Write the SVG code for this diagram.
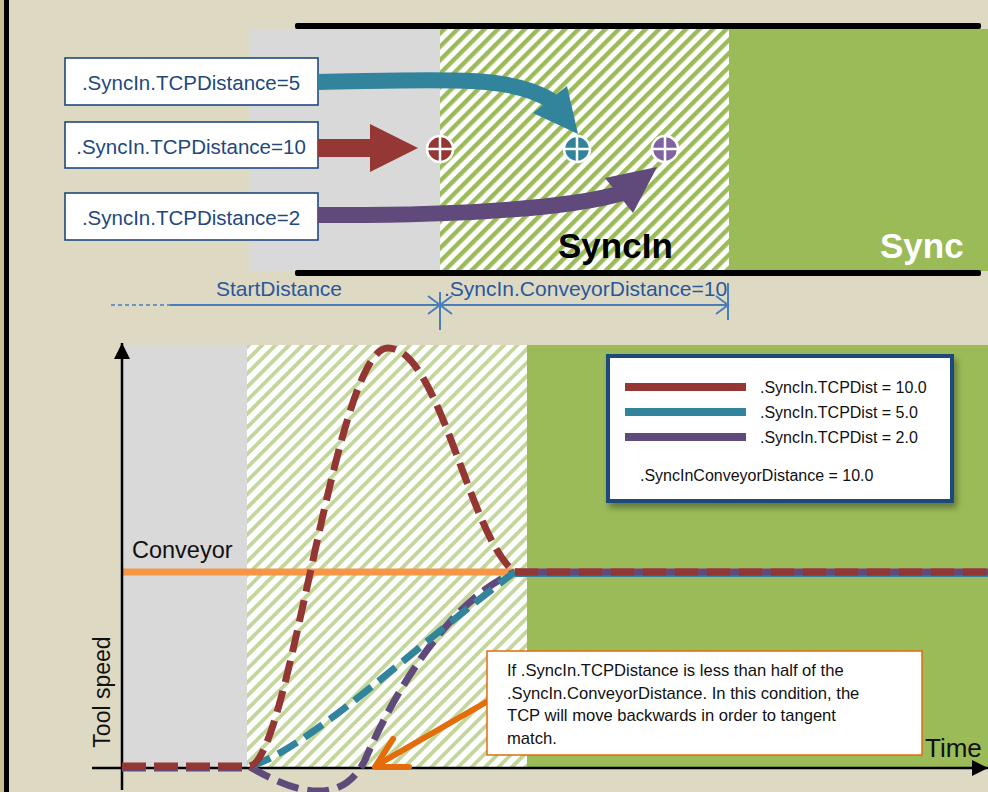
<svg xmlns="http://www.w3.org/2000/svg" width="988" height="792" viewBox="0 0 988 792">
<defs>
  <pattern id="hatchDark" width="9.5" height="9.5" patternUnits="userSpaceOnUse" patternTransform="rotate(45)">
    <rect width="9.5" height="9.5" fill="#ffffff"/>
    <rect width="4.4" height="9.5" fill="#9BBB59"/>
  </pattern>
  <pattern id="hatchLight" width="9.5" height="9.5" patternUnits="userSpaceOnUse" patternTransform="rotate(45)">
    <rect width="9.5" height="9.5" fill="#ffffff"/>
    <rect width="3.8" height="9.5" fill="#C3D69B"/>
  </pattern>
  <marker id="axisArrow" markerUnits="userSpaceOnUse" markerWidth="18" markerHeight="18" refX="16" refY="8" orient="auto">
    <path d="M0,0 L16,8 L0,16 z" fill="#000"/>
  </marker>
  <filter id="shadow" x="-10%" y="-10%" width="125%" height="135%">
    <feDropShadow dx="3" dy="5" stdDeviation="3" flood-color="#000" flood-opacity="0.35"/>
  </filter>
</defs>
<style>
  .lbl{font-family:"Liberation Sans",Arial,sans-serif}
  .box{fill:#ffffff;stroke:#1F497D;stroke-width:1.6}
  .boxtxt{font-family:"Liberation Sans",Arial,sans-serif;font-size:20.5px;fill:#1F497D;text-anchor:middle}
  .dimtxt{font-family:"Liberation Sans",Arial,sans-serif;font-size:21px;fill:#2B579A}
  .dimline{stroke:#4A7EBB;stroke-width:2;fill:none}
  .legtxt{font-family:"Liberation Sans",Arial,sans-serif;font-size:16px;fill:#111}
  .notetxt{font-family:"Liberation Sans",Arial,sans-serif;font-size:16.6px;fill:#111}
  .dash{fill:none;stroke-width:7;stroke-dasharray:22 9}
  .mk{stroke:#ffffff;stroke-width:2.5}
</style>

<g id="background">
  <rect x="0" y="0" width="988" height="792" fill="#DDD9C3"/>
  <rect x="0" y="0" width="4" height="792" fill="#C7BD97"/>
  <rect x="4" y="0" width="5" height="792" fill="#000"/>
</g>

<g id="top-zones">
  <rect x="250" y="29" width="190" height="242" fill="#D9D9D9"/>
  <rect x="440" y="29" width="289" height="242" fill="url(#hatchDark)"/>
  <rect x="729" y="29" width="259" height="242" fill="#9BBB59"/>
  <rect x="295" y="23" width="686" height="6" rx="2" fill="#000"/>
  <rect x="295" y="270" width="686" height="6" rx="2" fill="#000"/>
  <text class="lbl" x="558" y="258" font-size="35" font-weight="bold" fill="#000">SyncIn</text>
  <text class="lbl" x="880" y="258" font-size="35" font-weight="bold" fill="#fff">Sync</text>
</g>

<g id="box-tcp5">
  <rect class="box" x="65" y="58" width="253" height="47"/>
  <text class="boxtxt" x="191" y="90">.SyncIn.TCPDistance=5</text>
</g>
<g id="box-tcp10">
  <rect class="box" x="65" y="122" width="253" height="46"/>
  <text class="boxtxt" x="191" y="154">.SyncIn.TCPDistance=10</text>
</g>
<g id="box-tcp2">
  <rect class="box" x="65" y="193" width="253" height="47"/>
  <text class="boxtxt" x="191" y="225">.SyncIn.TCPDistance=2</text>
</g>

<g id="connectors">
  <path d="M318,82 C440,80 510,74 552,101" fill="none" stroke="#31849B" stroke-width="16"/>
  <polygon points="533,113 567,86 578,134" fill="#31849B"/>
  <rect x="318" y="139" width="54" height="18" fill="#953735"/>
  <polygon points="370,124 418,148 370,172" fill="#953735"/>
  <path d="M318,215 C470,216 575,207 622,193" fill="none" stroke="#604A7B" stroke-width="16"/>
  <polygon points="605,178 657,167 633,213" fill="#604A7B"/>
</g>

<g id="marker-red">
  <circle cx="440" cy="149" r="13" fill="#953735" class="mk"/>
  <path d="M427,149 H453 M440,136 V162" class="mk"/>
</g>
<g id="marker-teal">
  <circle cx="577" cy="149" r="13" fill="#31849B" class="mk"/>
  <path d="M564,149 H590 M577,136 V162" class="mk"/>
</g>
<g id="marker-purple">
  <circle cx="665" cy="149" r="13" fill="#8064A2" class="mk"/>
  <path d="M652,149 H678 M665,136 V162" class="mk"/>
</g>

<g id="dimensions">
  <line x1="111" y1="305" x2="170" y2="305" stroke="#4A7EBB" stroke-width="1.5" stroke-dasharray="4 3"/>
  <line class="dimline" x1="170" y1="305" x2="728" y2="305"/>
  <line class="dimline" x1="440" y1="292" x2="440" y2="330"/>
  <polyline class="dimline" points="428,296 440,305 428,314"/>
  <polyline class="dimline" points="452,296 440,305 452,314"/>
  <line class="dimline" x1="728" y1="283" x2="728" y2="320"/>
  <polyline class="dimline" points="716,296 728,305 716,314"/>
  <text class="dimtxt" x="216" y="296">StartDistance</text>
  <text class="dimtxt" x="444" y="296">.SyncIn.ConveyorDistance=10</text>
</g>

<g id="chart">
  <rect x="122" y="345" width="125" height="423" fill="#D9D9D9"/>
  <rect x="247" y="345" width="280" height="423" fill="url(#hatchLight)"/>
  <rect x="527" y="345" width="461" height="423" fill="#9BBB59"/>
  <line x1="122" y1="572" x2="988" y2="572" stroke="#F79646" stroke-width="7"/>
  <text class="lbl" x="132" y="558" font-size="23.5" fill="#111">Conveyor</text>
  <line x1="92" y1="768" x2="988" y2="768" stroke="#000" stroke-width="2.5" marker-end="url(#axisArrow)"/>
  <line x1="122" y1="790" x2="122" y2="343" stroke="#000" stroke-width="2.5" marker-end="url(#axisArrow)"/>
  <text class="lbl" x="0" y="0" font-size="23" fill="#111" text-anchor="middle" transform="translate(110,692) rotate(-90)">Tool speed</text>
  <text class="lbl" x="925" y="757" font-size="26" fill="#111">Time</text>
</g>

<g id="curves">
  <line x1="122" y1="768" x2="250" y2="768" stroke="#604A7B" stroke-width="7" stroke-dasharray="24 8"/>
  <line x1="515" y1="574" x2="988" y2="574" stroke="#31849B" stroke-width="6"/>
  <line x1="515" y1="572" x2="988" y2="572" stroke="#604A7B" stroke-width="7"/>
  <path class="dash" stroke="#604A7B" d="M250,767 C290,790 340,810 365,760 C395,690 450,600 515,572"/>
  <path class="dash" stroke="#31849B" d="M250,766 C305,752 420,642 515,572"/>
  <path class="dash" stroke="#943634" d="M250,766 C290,760 335,348 388,348 C440,348 470,540 515,572"/>
  <line x1="122" y1="766" x2="250" y2="766" stroke="#943634" stroke-width="7" stroke-dasharray="24 8"/>
  <line x1="515" y1="572" x2="988" y2="572" stroke="#943634" stroke-width="7" stroke-dasharray="23 9"/>
</g>

<g id="legend">
  <rect x="608" y="356" width="344" height="145" fill="#fff" stroke="#1F497D" stroke-width="4" filter="url(#shadow)"/>
  <line x1="625" y1="387" x2="746" y2="387" stroke="#953735" stroke-width="8"/>
  <line x1="625" y1="412" x2="746" y2="412" stroke="#31849B" stroke-width="8"/>
  <line x1="625" y1="437" x2="746" y2="437" stroke="#604A7B" stroke-width="8"/>
  <text class="legtxt" x="760" y="393">.SyncIn.TCPDist = 10.0</text>
  <text class="legtxt" x="760" y="418">.SyncIn.TCPDist = 5.0</text>
  <text class="legtxt" x="760" y="443">.SyncIn.TCPDist = 2.0</text>
  <text class="legtxt" x="640" y="481">.SyncInConveyorDistance = 10.0</text>
</g>

<g id="note-arrow">
  <line x1="495" y1="697" x2="377" y2="765" stroke="#E46C0A" stroke-width="6" stroke-linecap="round"/>
  <polyline points="393,739 375,767 409,767" fill="none" stroke="#E46C0A" stroke-width="6" stroke-linecap="round" stroke-linejoin="round"/>
</g>

<g id="note">
  <rect x="487" y="651" width="435" height="104" fill="#fff" stroke="#E46C0A" stroke-width="1.5"/>
  <text class="notetxt" x="507" y="676">If .SyncIn.TCPDistance is less than half of the</text>
  <text class="notetxt" x="507" y="698.5">.SyncIn.ConveyorDistance. In this condition, the</text>
  <text class="notetxt" x="507" y="721">TCP will move backwards in order to tangent</text>
  <text class="notetxt" x="507" y="743.5">match.</text>
</g>
</svg>
